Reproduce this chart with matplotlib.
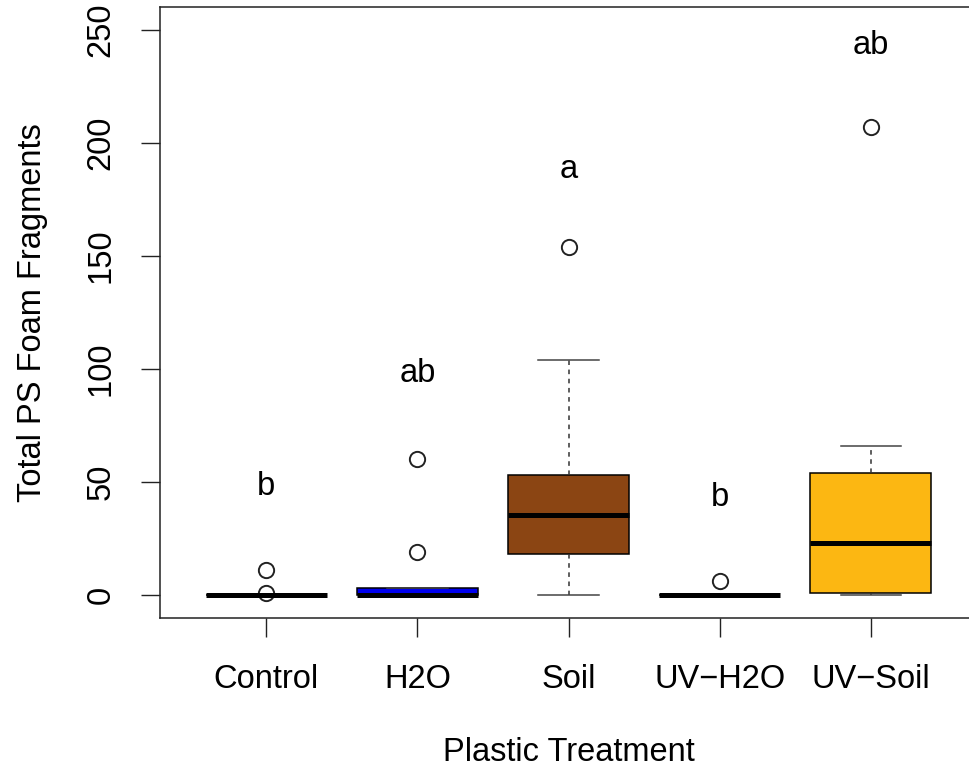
import matplotlib
matplotlib.use("Agg")
import matplotlib.pyplot as plt

plt.rcParams['font.family'] = ['Liberation Sans', 'DejaVu Sans']

# Treatment groups and five-number summaries (fragment counts)
treatments = ["Control", "H2O", "Soil", "UV\u2212H2O", "UV\u2212Soil"]
q1 = [0, 0, 18, 0, 1]
median = [0, 0, 35.5, 0, 23]
q3 = [0, 3, 53, 0, 54]
whisker_low = [0, 0, 0, 0, 0]
whisker_high = [0, 3, 104, 0, 66]
outliers = [[1, 11], [19, 60], [154], [6], [207]]
fill_colors = ["white", "#0000EE", "#8B4513", "white", "#FCB712"]

# Compact letter display (significance groups) and their heights
letters = ["b", "ab", "a", "b", "ab"]
letter_y = [50, 100, 190, 45, 245]

y_ticks = [0, 50, 100, 150, 200, 250]

FS = 23.5

W, H = 969, 767
fig = plt.figure(figsize=(W / 100, H / 100), dpi=100)
left_px, right_px, top_px, bottom_px = 160.3, 976.7, 7, 617.5
ax = fig.add_axes([left_px / W, 1 - bottom_px / H,
                   (right_px - left_px) / W, (bottom_px - top_px) / H])

stats = []
for i, name in enumerate(treatments):
    stats.append(dict(label=name, q1=q1[i], med=median[i], q3=q3[i],
                      whislo=whisker_low[i], whishi=whisker_high[i],
                      fliers=outliers[i]))

positions = list(range(1, len(treatments) + 1))
bp = ax.bxp(stats, positions=positions, widths=0.8, patch_artist=True,
            showfliers=True,
            boxprops=dict(edgecolor="black", linewidth=1.1),
            medianprops=dict(color="black", linewidth=3.6, solid_capstyle="butt"),
            whiskerprops=dict(color="#333333", linewidth=1.1, linestyle=(0, (3, 3))),
            capprops=dict(color="#444444", linewidth=1.1),
            flierprops=dict(marker="o", markerfacecolor="none",
                            markeredgecolor="#222222", markersize=11,
                            markeredgewidth=1.4))
for patch, c in zip(bp["boxes"], fill_colors):
    patch.set_facecolor(c)
for cap in bp["caps"]:
    x0, x1 = cap.get_xdata()
    c = (x0 + x1) / 2
    cap.set_xdata([c - 0.2, c + 0.2])

# letters centred on their y value (baseline sits a little below it)
for x, t, y in zip(positions, letters, letter_y):
    ax.annotate(t, xy=(x, y), xytext=(0, -9.5), textcoords="offset points",
                ha="center", va="baseline", fontsize=FS, color="black")

ax.set_xlim(0.3, 5.7)
ax.set_ylim(-10, 260)
ax.set_yticks(y_ticks)
ax.set_yticklabels([str(v) for v in y_ticks], rotation=90, va="center",
                   fontsize=FS)
ax.set_xticks(positions)
ax.set_xticklabels(treatments, fontsize=FS)
ax.tick_params(axis="y", length=13.5, width=1.0, pad=18, color="#222222")
ax.tick_params(axis="x", length=13.5, width=1.0, pad=20, color="#222222")
for s in ax.spines.values():
    s.set_linewidth(1.1)
    s.set_color("#222222")

ax.set_xlabel("Plastic Treatment", fontsize=FS, labelpad=30)
ax.set_ylabel("Total PS Foam Fragments", fontsize=FS, labelpad=27)

fig.savefig("out.png", dpi=100)
